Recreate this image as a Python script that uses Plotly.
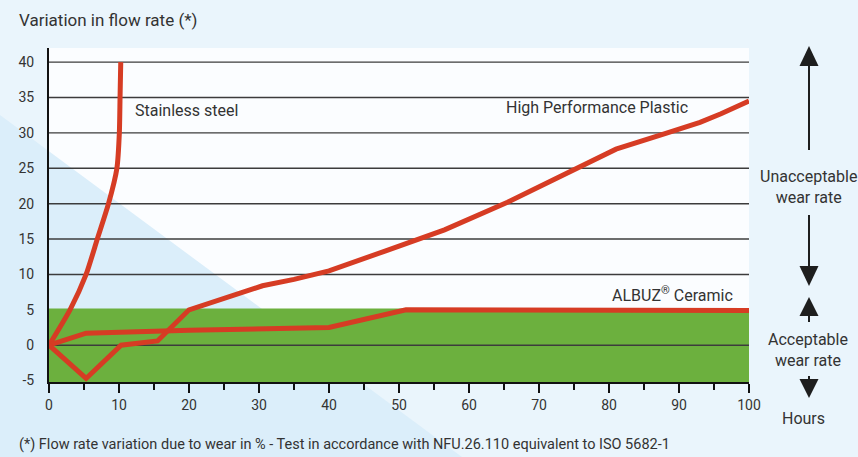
import plotly.graph_objects as go

# ---------------- data ----------------
steel_x = [0, 3.0, 5.3, 6.9, 8.5, 9.7, 10.05, 10.15, 10.25]
steel_y = [0, 5, 10, 15, 20, 25, 30, 35, 40]

plastic_x = [0, 5.3, 10.3, 15.5, 20, 25, 30.5, 35, 40, 48, 56.5, 65.5, 76, 81, 88, 93, 96, 100]
plastic_y = [0, -4.7, 0, 0.6, 5, 6.7, 8.4, 9.3, 10.5, 13.3, 16.3, 20.2, 25.2, 27.7, 29.9, 31.5, 32.7, 34.5]

ceramic_x = [0, 5.3, 20, 40, 51, 100]
ceramic_y = [0, 1.7, 2.1, 2.5, 5.0, 4.9]

x_ticks = list(range(0, 101, 10))
y_ticks = [-5, 0, 5, 10, 15, 20, 25, 30, 35, 40]
y_grid = [0, 10, 15, 20, 25, 30, 35, 40]
band = [-5.2, 5.2]  # acceptable wear band

title_text = "Variation in flow rate (*)"
foot_text = "(*) Flow rate variation due to wear in % - Test in accordance with NFU.26.110 equivalent to ISO 5682-1"

# ---------------- style ----------------
RED = "#d63c24"
GREEN = "#6cb03e"
TXT = "#333333"
FONT = "Roboto"
W_PX, H_PX = 858, 457
ML, MR, MT, MB = 49, 109, 48, 75
PW = W_PX - ML - MR
PH = H_PX - MT - MB


def P(px, py):
    return (px - ML) / PW, (H_PX - MB - py) / PH


fig = go.Figure()

line_style = dict(color=RED, width=5)
fig.add_trace(go.Scatter(x=steel_x, y=steel_y, mode="lines", line=dict(color=RED, width=5, shape="spline", smoothing=0.6),
                         name="Stainless steel", hoverinfo="skip"))
fig.add_trace(go.Scatter(x=ceramic_x, y=ceramic_y, mode="lines", line=line_style,
                         name="ALBUZ Ceramic", hoverinfo="skip"))
fig.add_trace(go.Scatter(x=plastic_x, y=plastic_y, mode="lines", line=line_style,
                         name="High Performance Plastic", hoverinfo="skip"))

shapes = []
# diagonal light-blue background band
x0, y0 = P(0, 115)
x1, y1 = P(462, 457)
x2, y2 = P(0, 457)
shapes.append(dict(type="path", xref="paper", yref="paper",
                   path=f"M {x0},{y0} L {x1},{y1} L {x2},{y2} Z",
                   fillcolor="#dbeefa", line=dict(width=0), layer="below"))
# green acceptable band
shapes.append(dict(type="rect", xref="x", yref="y", x0=0, x1=100, y0=band[0], y1=band[1],
                   fillcolor=GREEN, line=dict(width=0), layer="below"))
# horizontal grid lines
for gy in y_grid:
    shapes.append(dict(type="line", xref="x", yref="y", x0=0, x1=100, y0=gy, y1=gy,
                       line=dict(color="#3c3c3c", width=1.4), layer="below"))

# arrows on the right
AX = 809
DARK = "#1e1e1e"


def shaft(pa, pb):
    a = P(AX, pa)
    b = P(AX, pb)
    shapes.append(dict(type="line", xref="paper", yref="paper", x0=a[0], y0=a[1], x1=b[0], y1=b[1],
                       line=dict(color=DARK, width=2)))


def head(tip, base):
    t = P(AX, tip)
    l = P(AX - 9.5, base)
    r = P(AX + 9.5, base)
    shapes.append(dict(type="path", xref="paper", yref="paper",
                       path=f"M {t[0]},{t[1]} L {l[0]},{l[1]} L {r[0]},{r[1]} Z",
                       fillcolor=DARK, line=dict(width=0)))


shaft(150, 60); head(46, 66)
shaft(215, 270); head(286, 266)
shaft(322, 312); head(297, 316)
shaft(376, 384); head(398, 379)

annotations = []


def txt(px, py, text, anchor="left", size=15):
    x, y = P(px, py)
    annotations.append(dict(xref="paper", yref="paper", x=x, y=y, text=text, showarrow=False,
                            xanchor=anchor, yanchor="middle", align="center",
                            font=dict(family=FONT, size=size, color=TXT)))


txt(17, 20, title_text, "left", 17)
txt(17, 444, foot_text, "left", 14.5)
txt(808, 187, "Unacceptable<br>wear rate", "center", 16)
txt(808, 350, "Acceptable<br>wear rate", "center", 16)
txt(803, 418, "Hours", "center", 16)

# series labels (data coordinates)
annotations.append(dict(x=12.0, y=33.1, xref="x", yref="y", text="Stainless steel", showarrow=False,
                        xanchor="left", yanchor="middle", font=dict(family=FONT, size=16, color=TXT)))
annotations.append(dict(x=91.5, y=33.6, xref="x", yref="y", text="High Performance Plastic", showarrow=False,
                        xanchor="right", yanchor="middle", font=dict(family=FONT, size=16, color=TXT)))
annotations.append(dict(x=98.0, y=7.2, xref="x", yref="y", text="ALBUZ<sup>®</sup> Ceramic", showarrow=False,
                        xanchor="right", yanchor="middle", font=dict(family=FONT, size=16, color=TXT)))

fig.update_layout(
    width=W_PX, height=H_PX,
    margin=dict(l=ML, r=MR, t=MT, b=MB, pad=0),
    paper_bgcolor="#eaf5fc",
    plot_bgcolor="#fbfdff",
    showlegend=False,
    shapes=shapes,
    annotations=annotations,
    font=dict(family=FONT, color=TXT, size=14),
    xaxis=dict(range=[0, 100], tickvals=x_ticks, ticktext=[str(v) for v in x_ticks],
               showgrid=False, zeroline=False, showline=True, linecolor="#111", linewidth=2,
               ticks="outside", ticklen=9, tickwidth=2, tickcolor="#111",
               tickfont=dict(family=FONT, size=14, color=TXT),
               minor=dict(dtick=5, tick0=0, ticks="outside", ticklen=6, tickwidth=2, tickcolor="#111", showgrid=False)),
    yaxis=dict(range=[band[0], 42], tickvals=y_ticks, ticktext=[str(v) for v in y_ticks],
               showgrid=False, zeroline=False, showline=True, linecolor="#111", linewidth=2,
               ticks="", ticklabelstandoff=10,
               tickfont=dict(family=FONT, size=14, color=TXT)),
)

fig.write_html("out.html", config={"displayModeBar": False},
               post_script="document.body.style.margin='0';document.body.style.overflow='hidden';")
